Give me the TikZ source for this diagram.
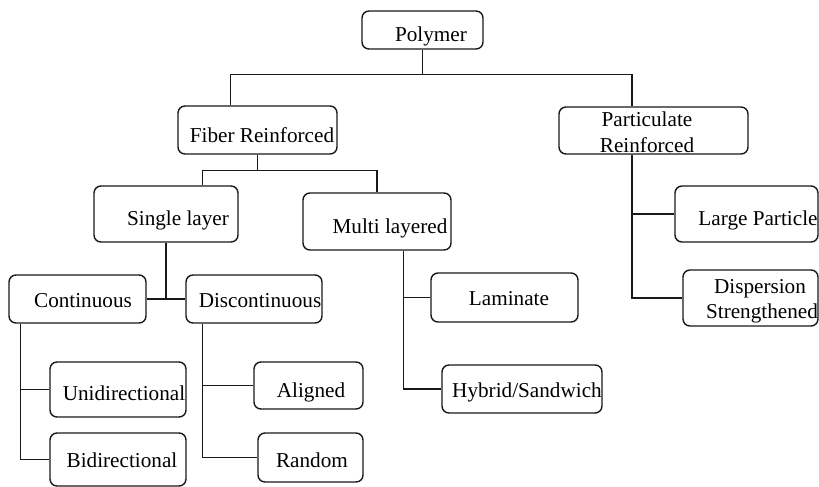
\documentclass[tikz,border=0pt]{standalone}
\usepackage{fontspec}
\setmainfont{Liberation Serif}
\usetikzlibrary{fit,calc}
\tikzset{
  box/.style={draw=black!90, line width=0.7pt, rounded corners=3.5pt, inner sep=0pt},
  lbl/.style={font=\fontsize{10.6pt}{13pt}\selectfont, inner sep=0pt, anchor=base},
  link/.style={draw=black!90, line width=0.7pt}
}
\begin{document}
\begin{tikzpicture}[x=0.5pt, y=-0.5pt]
\useasboundingbox (0,0) rectangle (819,487);

% boxes
\node[box, fit={(362,11) (483,49)}]   (poly) {};
\node[box, fit={(178,106) (337,154)}] (fib)  {};
\node[box, fit={(559,107) (748,154)}] (part) {};
\node[box, fit={(675,186) (818,242)}] (lp)   {};
\node[box, fit={(683,270) (818,326)}] (disp) {};
\node[box, fit={(94,186) (238,242)}]  (sl)   {};
\node[box, fit={(303,193) (451,250)}] (ml)   {};
\node[box, fit={(9,275) (146,323)}]   (cont) {};
\node[box, fit={(186,275) (322,323)}] (disc) {};
\node[box, fit={(431,273) (578,322)}] (lam)  {};
\node[box, fit={(442,365) (602,413)}] (hyb)  {};
\node[box, fit={(50,362) (186,417)}]  (uni)  {};
\node[box, fit={(50,433) (186,486)}]  (bi)   {};
\node[box, fit={(254,362) (363,409)}] (ali)  {};
\node[box, fit={(258,433) (363,482)}] (ran)  {};

% labels
\node[lbl] (tpoly)  at (431,41)  {Polymer};
\node[lbl] (tfib)   at (262,142) {Fiber Reinforced};
\node[lbl] (tpart1) at (647,126) {Particulate};
\node[lbl] (tpart2) at (647,152) {Reinforced};
\node[lbl] (tlp)    at (758,225) {Large Particle};
\node[lbl] (tdisp1) at (760,293) {Dispersion};
\node[lbl] (tdisp2) at (762,318) {Strengthened};
\node[lbl] (tsl)    at (178,225) {Single layer};
\node[lbl] (tml)    at (390,233) {Multi layered};
\node[lbl] (tcont)  at (83,307)  {Continuous};
\node[lbl] (tdisc)  at (260,307) {Discontinuous};
\node[lbl] (tlam)   at (509,305) {Laminate};
\node[lbl] (thyb)   at (527,397) {Hybrid/Sandwich};
\node[lbl] (tuni)   at (124,400) {Unidirectional};
\node[lbl] (tbi)    at (122,467) {Bidirectional};
\node[lbl] (tali)   at (311,397) {Aligned};
\node[lbl] (tran)   at (312,467) {Random};

% attachment points along box edges
\coordinate (fibtop)   at ($(fib.north west)!0.333!(fib.north east)$);
\coordinate (parttop)  at ($(part.north west)!0.386!(part.north east)$);
\coordinate (partbot)  at ($(part.south west)!0.386!(part.south east)$);
\coordinate (sltop)    at ($(sl.north west)!0.75!(sl.north east)$);
\coordinate (mlbot)    at ($(ml.south west)!0.676!(ml.south east)$);
\coordinate (contbot)  at ($(cont.south west)!0.088!(cont.south east)$);
\coordinate (discbot)  at ($(disc.south west)!0.125!(disc.south east)$);
\coordinate (bar1)     at ($(poly.south)+(0,25)$);
\coordinate (bar2)     at ($(fib.south)+(0,16)$);

% connectors
\draw[link] (poly.south) -- (bar1);
\draw[link] (fibtop) |- (bar1) -| (parttop);
\draw[link] (fib.south) -- (bar2);
\draw[link] (sltop) |- (bar2) -| (ml.north);
\draw[link] (sl.south) -- (sl.south |- cont.east);
\draw[link] (cont.east) -- (disc.west);
\draw[link] (contbot) |- (bi.west);
\draw[link] (contbot |- uni.west) -- (uni.west);
\draw[link] (discbot) |- (ran.west);
\draw[link] (discbot |- ali.west) -- (ali.west);
\draw[link] (mlbot) |- (hyb.west);
\draw[link] (mlbot |- lam.west) -- (lam.west);
\draw[link] (partbot) |- (disp.west);
\draw[link] (partbot |- lp.west) -- (lp.west);
\end{tikzpicture}
\end{document}
